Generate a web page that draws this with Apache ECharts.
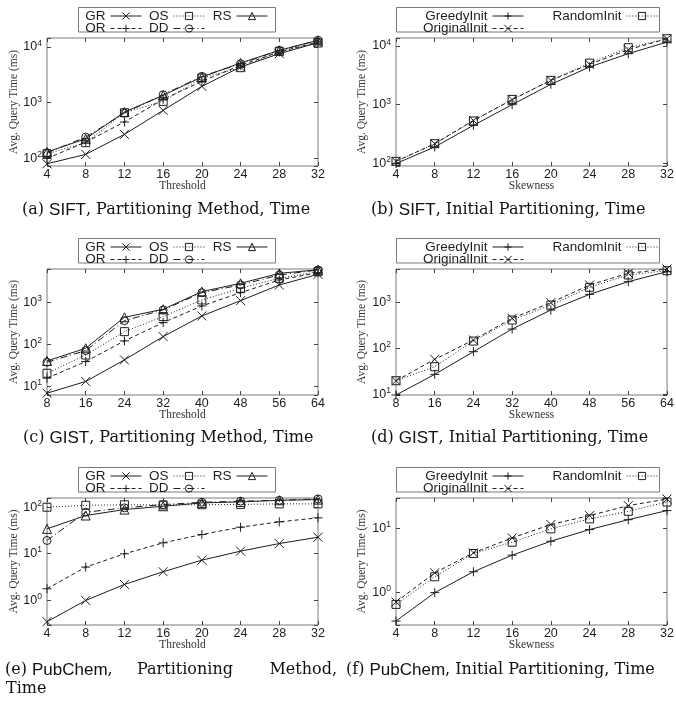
<!DOCTYPE html>
<html><head><meta charset="utf-8">
<script src="https://cdn.jsdelivr.net/npm/echarts@6/dist/echarts.min.js"></script>
<style>html,body{margin:0;padding:0;background:#fff}#c{width:676px;height:701px}</style>
</head><body><div id="c"></div>
<script>
// ---- x categories ----
const thresholdsSift = [4, 8, 12, 16, 20, 24, 28, 32];
const thresholdsGist = [8, 16, 24, 32, 40, 48, 56, 64];
const thresholdsPub = [4, 8, 12, 16, 20, 24, 28, 32];
// ---- (a) SIFT, Partitioning Method ----
const siftGR = [80, 118, 270, 728, 1964, 4375, 7590, 11960];
const siftOR = [100, 196, 450, 1150, 2415, 4690, 8130, 12300];
const siftOS = [121, 191, 660, 1057, 2775, 4250, 8360, 11800];
const siftRS = [130, 225, 680, 1355, 2890, 5170, 8710, 13170];
const siftDD = [126, 241, 650, 1390, 2970, 5000, 8710, 13170];
// ---- (b) SIFT, Initial Partitioning ----
const siftGreedy = [99, 190, 444, 1000, 2220, 4390, 7400, 11700];
const siftOriginal = [108, 216, 540, 1216, 2600, 4870, 8660, 13300];
const siftRandom = [108, 216, 527, 1230, 2600, 5120, 9370, 13300];
// ---- (c) GIST, Partitioning Method ----
const gistGR = [6.95, 13.2, 42.9, 153, 474, 1095, 2575, 4615];
const gistOR = [15.8, 39.2, 121, 330, 819, 1690, 3390, 5050];
const gistOS = [20.7, 56, 201, 457, 1136, 2150, 3700, 5340];
const gistRS = [40.6, 81, 440, 682, 1790, 2820, 4870, 5900];
const gistDD = [37.8, 71.5, 367, 658, 1690, 2580, 4450, 5850];
// ---- (d) GIST, Initial Partitioning ----
const gistGreedy = [9.7, 27.2, 84.7, 263, 681, 1490, 2810, 4640];
const gistOriginal = [19.8, 57.7, 152, 449, 983, 2380, 4270, 5300];
const gistRandom = [19.8, 40, 144, 413, 875, 2120, 3930, 4870];
// ---- (e) PubChem, Partitioning Method ----
const pubGR = [0.342, 0.98, 2.17, 4.07, 7.24, 11.3, 16.5, 22.6];
const pubOR = [1.75, 5.13, 9.9, 17.1, 25.8, 37.1, 48.4, 59];
const pubOS = [100, 110, 113, 112, 113, 115, 118, 118];
const pubRS = [34.2, 66.3, 89, 105, 124, 130, 141, 146];
const pubDD = [19.2, 78, 97, 114, 128, 135, 141, 151];
// ---- (f) PubChem, Initial Partitioning ----
const pubGreedy = [0.35, 0.98, 2.09, 3.81, 6.32, 9.65, 13.8, 19.2];
const pubOriginal = [0.697, 2.01, 4.15, 7.13, 11.6, 16.0, 23.0, 29.2];
const pubRandom = [0.64, 1.74, 4.05, 6.1, 9.9, 14.2, 18.7, 26.2];

const pmNames = ['GR', 'OR', 'OS', 'DD', 'RS'];
const ipNames = ['GreedyInit', 'OriginalInit', 'RandomInit'];

const C = '#1e1e1e';
const FRAME = '#7a7a7a';
const SANS = 'Liberation Sans';
const SERIF = 'Liberation Serif';
const CAPSERIF = 'DejaVu Serif';
const SYM = {
  cross: 'path://M0,0L10,10M10,0L0,10',
  plus: 'path://M5,0L5,10M0,5L10,5',
  square: 'path://M0,0L10,0L10,10L0,10Z',
  triangle: 'path://M5,0L10,9L0,9Z',
  circle: 'path://M0,5A5,5,0,1,1,10,5A5,5,0,1,1,0,5Z'
};
const STYLE = {
  GR: {type: 'solid', sym: 'cross', size: 9},
  OR: {type: [4, 3], sym: 'plus', size: 9},
  OS: {type: [1, 2], sym: 'square', size: 8},
  RS: {type: 'solid', sym: 'triangle', size: 9},
  DD: {type: [7, 3, 1, 3], sym: 'circle', size: 8},
  GreedyInit: {type: 'solid', sym: 'plus', size: 9},
  OriginalInit: {type: [4, 3], sym: 'cross', size: 9},
  RandomInit: {type: [1, 2], sym: 'square', size: 8}
};

const panels = [
  {left: 47, top: 38, w: 271, h: 128, xs: thresholdsSift, xint: 4, ymin: 73, ymax: 14500, xname: 'Threshold', kind: 'pm', vals: [siftGR, siftOR, siftOS, siftDD, siftRS]},
  {left: 396, top: 38, w: 271, h: 128, xs: thresholdsSift, xint: 4, ymin: 90, ymax: 13700, xname: 'Skewness', kind: 'ip', vals: [siftGreedy, siftOriginal, siftRandom]},
  {left: 47, top: 269, w: 271, h: 126, xs: thresholdsGist, xint: 8, ymin: 6.3, ymax: 6170, xname: 'Threshold', kind: 'pm', vals: [gistGR, gistOR, gistOS, gistDD, gistRS]},
  {left: 396, top: 269, w: 271, h: 126, xs: thresholdsGist, xint: 8, ymin: 9.7, ymax: 5300, xname: 'Skewness', kind: 'ip', vals: [gistGreedy, gistOriginal, gistRandom]},
  {left: 47, top: 498, w: 271, h: 127, xs: thresholdsPub, xint: 4, ymin: 0.29, ymax: 158, xname: 'Threshold', kind: 'pm', vals: [pubGR, pubOR, pubOS, pubDD, pubRS]},
  {left: 396, top: 498, w: 271, h: 127, xs: thresholdsPub, xint: 4, ymin: 0.303, ymax: 30.3, xname: 'Skewness', kind: 'ip', vals: [pubGreedy, pubOriginal, pubRandom]}
];

const grid = [], xAxis = [], yAxis = [], series = [], legend = [], graphic = [], title = [];
const tickStyle = {show: true, inside: true, length: 4, lineStyle: {color: '#444', width: 1}};

function yFmt(v) {
  const e = Math.log10(v), r = Math.round(e);
  if (Math.abs(e - r) > 1e-6) return '';
  return '{b|10}{s|' + r + '}';
}

panels.forEach((p, i) => {
  grid.push({left: p.left, top: p.top, width: p.w, height: p.h, show: true, borderColor: FRAME, borderWidth: 1, backgroundColor: 'transparent', containLabel: false, outerBoundsMode: 'none'});
  const xmin = p.xs[0], xmax = p.xs[p.xs.length - 1];
  xAxis.push({type: 'value', gridIndex: i, min: xmin, max: xmax, interval: p.xint, position: 'bottom',
    axisLine: {show: false}, axisTick: tickStyle, splitLine: {show: false},
    axisLabel: {show: true, margin: 2, fontSize: 12.5, fontFamily: SANS, color: C, showMinLabel: true, showMaxLabel: true},
    name: p.xname, nameLocation: 'middle', nameGap: 14, nameMoveOverlap: false,
    nameTextStyle: {fontFamily: SERIF, fontSize: 11.5, color: '#333'}});
  xAxis.push({type: 'value', gridIndex: i, min: xmin, max: xmax, interval: p.xint, position: 'top',
    axisLine: {show: false}, axisTick: tickStyle, splitLine: {show: false}, axisLabel: {show: false}});
  const isLeft = p.left < 300;
  yAxis.push({type: 'log', logBase: 10, gridIndex: i, min: p.ymin, max: p.ymax, position: 'left',
    axisLine: {show: false}, axisTick: tickStyle, splitLine: {show: false},
    axisLabel: {show: true, margin: 5, formatter: yFmt, showMinLabel: true, showMaxLabel: true,
      rich: {b: {fontSize: 12.5, fontFamily: SANS, color: C, lineHeight: 16}, s: {fontSize: 8.5, fontFamily: SANS, color: C, verticalAlign: 'top', lineHeight: 10}}},
    name: 'Avg. Query Time (ms)', nameLocation: 'middle', nameGap: isLeft ? 27 : 28, nameMoveOverlap: false,
    nameTextStyle: {fontFamily: SERIF, fontSize: 11.5, color: '#333'}});
  yAxis.push({type: 'log', logBase: 10, gridIndex: i, min: p.ymin, max: p.ymax, position: 'right',
    axisLine: {show: false}, axisTick: tickStyle, splitLine: {show: false}, axisLabel: {show: false}});

  const names = p.kind === 'pm' ? pmNames : ipNames;
  names.forEach((nm, k) => {
    const st = STYLE[nm];
    series.push({type: 'line', name: nm, xAxisIndex: 2 * i, yAxisIndex: 2 * i,
      data: p.xs.map((x, j) => [x, p.vals[k][j]]),
      symbol: SYM[st.sym], symbolSize: st.size, showSymbol: true, showAllSymbol: true,
      lineStyle: {color: C, width: 1, type: st.type},
      itemStyle: {color: 'transparent', borderColor: C, borderWidth: 1},
      emphasis: {disabled: true}, silent: true, animation: false});
  });

  // legend
  const txt = {fontSize: 13.5, fontFamily: SANS, color: C};
  const r1 = p.top - 29, r2 = p.top - 16.5;
  let entries;
  if (p.kind === 'pm') {
    graphic.push({type: 'rect', shape: {x: 78.5, y: p.top - 30.5, width: 197, height: 24.5}, style: {fill: 'none', stroke: FRAME, lineWidth: 1}, z: 1});
    entries = [['GR', 534, r1], ['OS', 471, r1], ['RS', 408, r1], ['OR', 534, r2], ['DD', 471, r2]];
  } else {
    graphic.push({type: 'rect', shape: {x: 396.5, y: p.top - 30.5, width: 263, height: 24.5}, style: {fill: 'none', stroke: FRAME, lineWidth: 1}, z: 1});
    entries = [['GreedyInit', 152, r1], ['RandomInit', 18, r1], ['OriginalInit', 152, r2]];
  }
  entries.forEach(e => {
    legend.push({data: [e[0]], right: e[1], top: e[2], align: 'right', orient: 'horizontal', padding: 0,
      itemWidth: 31, itemHeight: 9, itemGap: 0, selectedMode: false, textStyle: txt,
      lineStyle: {width: 1, color: C}, itemStyle: {borderWidth: 1, borderColor: C, color: 'transparent'}});
  });
});

// captions
const capRich = {
  s: {fontFamily: CAPSERIF, fontSize: 16, color: '#111', lineHeight: 20},
  a: {fontFamily: SANS, fontSize: 17, color: '#111', lineHeight: 20}
};
function cap(text, pos, top) {
  return Object.assign({text: text, top: top, padding: 0, textStyle: {rich: capRich, fontSize: 16, fontFamily: CAPSERIF, color: '#111', fontWeight: 'normal'}}, pos);
}
title.push(cap('{s|(a)} {a|SIFT}{s|, Partitioning Method, Time}', {left: 22}, 200));
title.push(cap('{s|(b)} {a|SIFT}{s|, Initial Partitioning, Time}', {left: 371}, 200));
title.push(cap('{s|(c)} {a|GIST}{s|, Partitioning Method, Time}', {left: 23}, 428));
title.push(cap('{s|(d)} {a|GIST}{s|, Initial Partitioning, Time}', {left: 371}, 428));
title.push(cap('{s|(e)}', {left: 5}, 660));
title.push(cap('{a|PubChem}{s|,}', {left: 32}, 660));
title.push(cap('{s|Partitioning}', {left: 137}, 660));
title.push(cap('{s|Method,}', {right: 339}, 660));
title.push(cap('{s|Time}', {left: 6}, 679));
title.push(cap('{s|(f)} {a|PubChem}{s|, Initial Partitioning, Time}', {left: 346}, 660));

const chart = echarts.init(document.getElementById('c'), null, {renderer: 'canvas'});
chart.setOption({
  animation: false,
  backgroundColor: '#fff',
  title: title,
  grid: grid,
  xAxis: xAxis,
  yAxis: yAxis,
  legend: legend,
  graphic: graphic,
  tooltip: {show: false},
  series: series
});
</script>
</body></html>
